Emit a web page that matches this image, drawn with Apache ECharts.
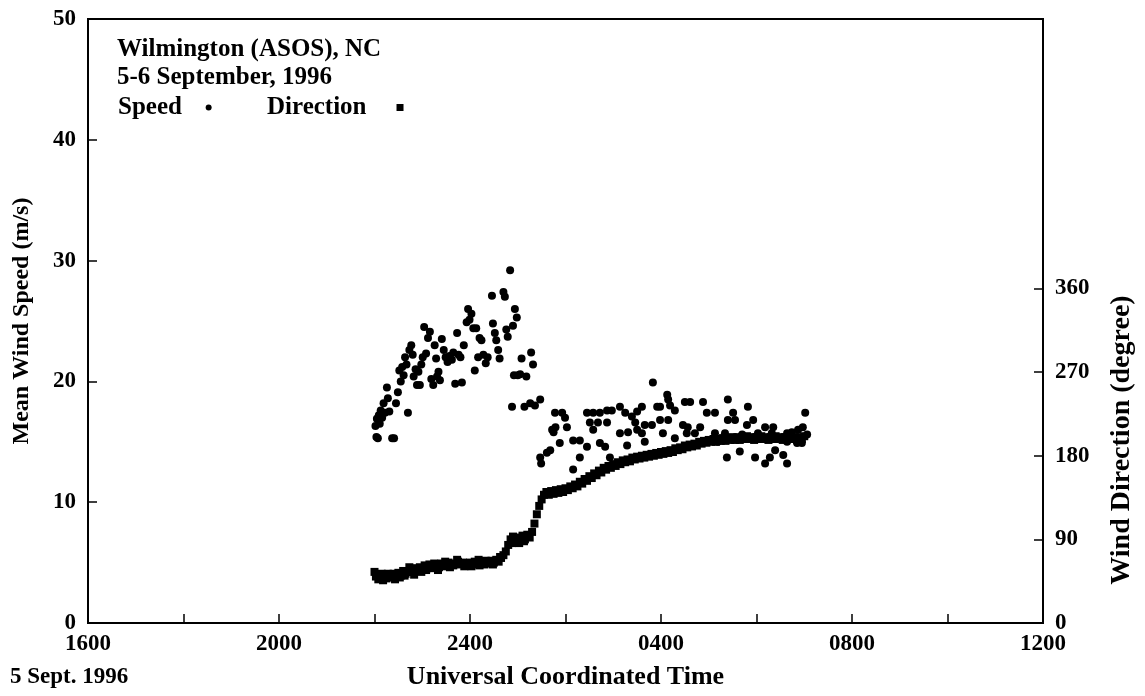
<!DOCTYPE html>
<html><head><meta charset="utf-8">
<script src="https://cdn.jsdelivr.net/npm/echarts@6/dist/echarts.min.js"></script>
<style>html,body{margin:0;padding:0;background:#fff}#c{width:1145px;height:696px}</style>
</head><body><div id="c"></div>
<script>
// Time in hours after 0000 UTC 5 Sept 1996 (24 = 2400, 28 = 0400 on 6 Sept)
const xTickValues = [16,18,20,22,24,26,28,30,32,34,36];
const xLabelValues = [16,20,24,28,32,36];
const xLabelTexts = ['1600','2000','2400','0400','0800','1200'];
const speedTicks = [0,10,20,30,40,50];
const dirTicks = [0,90,180,270,360];

// Mean wind speed (m/s) — [time, value]
const speedPoints = [
[22.02,16.3],[22.04,15.4],[22.05,16.9],[22.07,15.3],[22.09,17.2],[22.11,16.5],[22.13,17.6],[22.16,17.0],[22.19,18.2],[22.22,17.4],
[22.26,19.5],[22.28,18.6],[22.31,17.5],[22.37,15.3],[22.41,15.3],[22.45,18.2],[22.49,19.1],[22.52,20.9],[22.55,20.0],[22.58,21.2],
[22.61,20.5],[22.64,22.0],[22.67,21.4],[22.70,17.4],[22.73,22.6],[22.77,23.0],[22.80,22.2],[22.82,20.4],[22.86,21.0],[22.89,19.7],
[22.92,20.8],[22.95,19.7],[22.98,21.4],[23.01,22.0],[23.04,24.5],[23.08,22.3],[23.12,23.6],[23.16,24.1],[23.19,20.2],[23.23,19.7],
[23.26,23.0],[23.29,21.9],[23.31,20.4],[23.34,20.8],[23.37,20.1],[23.41,23.5],[23.45,22.6],[23.49,22.0],[23.53,21.6],[23.57,22.1],
[23.62,21.8],[23.65,22.4],[23.69,19.8],[23.73,24.0],[23.76,22.2],[23.80,22.0],[23.83,19.9],[23.87,23.0],[23.93,24.9],[23.96,26.0],
[23.99,25.1],[24.03,25.6],[24.07,24.4],[24.10,20.9],[24.13,24.4],[24.17,22.0],[24.20,23.6],[24.24,23.4],[24.28,22.2],[24.33,21.5],
[24.37,22.0],[24.46,27.1],[24.48,24.8],[24.52,24.0],[24.55,23.4],[24.59,22.6],[24.62,21.9],[24.70,27.4],[24.73,27.0],[24.76,24.3],
[24.79,23.7],[24.84,29.2],[24.90,24.6],[24.94,26.0],[24.98,25.3],[24.88,17.9],[24.92,20.5],[25.00,20.5],[25.05,20.6],[25.08,21.9],
[25.14,17.9],[25.18,20.4],[25.28,22.4],[25.32,21.4],[25.26,18.2],[25.36,18.0],
[25.47,18.5],[25.47,13.7],[25.49,13.2],[25.61,14.1],[25.68,14.3],[25.72,16.0],[25.75,15.8],[25.78,17.4],[25.79,16.2],[25.88,14.9],
[25.93,17.4],[25.99,17.0],[26.03,16.2],[26.16,15.1],[26.30,15.1],[26.30,13.7],[26.16,12.7],[26.45,17.4],[26.45,14.6],[26.51,16.6],
[26.58,17.4],[26.58,16.0],[26.68,16.6],[26.72,17.4],[26.72,14.9],[26.83,14.6],[26.87,17.6],[26.87,16.6],[26.93,13.7],[26.97,17.6],
[27.14,17.9],[27.14,15.7],[27.25,17.4],[27.29,14.7],[27.31,15.8],[27.39,17.1],[27.50,17.5],[27.50,16.0],[27.46,16.6],[27.60,17.9],
[27.60,15.7],[27.66,16.4],[27.66,15.0],[27.81,16.4],[27.83,19.9],[27.92,17.9],[27.98,17.9],[27.98,16.8],[28.04,15.7],[28.13,18.9],
[28.15,18.5],[28.15,16.8],[28.19,18.0],[28.29,17.6],[28.29,15.3],[28.46,16.4],[28.50,18.3],[28.54,15.7],[28.56,16.2],[28.61,18.3],
[28.71,15.7],[28.82,16.2],[28.88,18.3],[28.96,17.4],[29.13,17.4],[29.13,15.7],[29.19,15.0],[29.34,15.7],[29.38,13.7],[29.40,18.5],
[29.40,16.8],[29.51,17.4],[29.55,16.8],[29.65,14.2],[29.70,15.6],[29.80,16.4],[29.82,17.9],[29.93,16.8],[29.97,13.7],[30.03,15.7],
[30.18,16.2],[30.18,13.2],[30.28,13.7],[30.32,15.7],[30.35,16.2],[30.39,14.3],[30.56,13.9],[30.64,15.7],[30.64,15.0],[30.64,13.2],
[30.74,15.8],[30.85,14.9],[30.87,16.0],[30.95,14.9],[30.97,16.2],[31.02,17.4],[31.06,15.6]
];

// Wind direction (degree) — [time, value]
const directionPoints = [
[22.00,55],[22.03,50],[22.05,52],[22.08,47],[22.10,49],[22.15,53],[22.18,46],[22.20,50],[22.25,48],[22.28,53],[22.30,52],[22.35,49],[22.40,53],[22.43,47],[22.45,50],
[22.50,54],[22.53,49],[22.55,51],[22.60,56],[22.63,51],[22.65,53],[22.70,55],[22.73,60],[22.75,58],[22.80,55],[22.83,52],[22.85,59],[22.90,56],[22.95,60],[22.98,55],
[23.00,58],[23.05,62],[23.08,57],[23.10,59],[23.15,63],[23.18,59],[23.20,60],[23.25,64],[23.30,61],[23.33,57],[23.35,60],[23.40,64],[23.45,62],[23.48,66],
[23.50,61],[23.55,65],[23.58,60],[23.60,63],[23.65,62],[23.70,64],[23.73,68],[23.75,66],[23.80,63],[23.85,65],[23.88,61],[23.90,64],[23.95,62],
[24.00,65],[24.03,61],[24.05,63],[24.10,66],[24.15,64],[24.18,68],[24.20,62],[24.25,65],[24.30,63],[24.33,67],[24.35,66],[24.40,64],[24.45,67],[24.48,63],
[24.50,65],[24.55,68],[24.60,66],[24.63,71],[24.65,70],[24.70,73],[24.75,77],[24.80,84],[24.85,90],[24.88,86],[24.90,93],[24.95,88],
[25.00,92],[25.03,86],[25.05,89],[25.10,94],[25.13,88],[25.15,90],[25.20,95],[25.25,92],[25.30,98],[25.35,107],[25.40,117],[25.45,126],
[25.50,133],[25.55,138],[25.60,141],[25.65,138],[25.70,142],[25.75,139],[25.80,143],[25.85,140],[25.90,144],[25.95,141],
[26.00,145],[26.05,143],[26.10,147],[26.15,145],[26.20,149],[26.25,147],[26.30,152],[26.35,150],[26.40,155],[26.45,153],
[26.50,158],[26.55,156],[26.60,161],[26.65,159],[26.70,164],[26.75,162],[26.80,167],[26.85,165],[26.90,169],[26.95,167],
[27.00,171],[27.05,169],[27.10,173],[27.15,171],[27.20,175],[27.25,173],[27.30,176],[27.35,174],[27.40,178],[27.45,176],
[27.50,179],[27.55,177],[27.60,180],[27.65,178],[27.70,181],[27.75,179],[27.80,182],[27.85,180],[27.90,183],[27.95,181],
[28.00,184],[28.05,182],[28.10,185],[28.15,183],[28.20,186],[28.25,184],[28.30,188],[28.35,186],[28.40,189],[28.45,187],
[28.50,191],[28.55,189],[28.60,192],[28.65,190],[28.70,193],[28.75,191],[28.80,195],[28.85,193],[28.90,196],[28.95,194],
[29.00,197],[29.05,195],[29.10,198],[29.15,195],[29.20,198],[29.25,196],[29.30,199],[29.35,196],[29.40,199],[29.45,197],
[29.50,200],[29.55,197],[29.60,200],[29.65,197],[29.70,200],[29.75,198],[29.80,201],[29.85,198],[29.90,200],[29.95,197],
[30.00,200],[30.05,198],[30.10,201],[30.15,198],[30.20,200],[30.25,197],[30.30,200],[30.35,198],[30.40,201],[30.45,198],
[30.50,200],[30.55,197],[30.60,200],[30.65,198],[30.70,201],[30.75,198],[30.80,200],[30.85,197],[30.90,200],[30.95,198],[31.00,201]
];

const F = "'Liberation Serif','Times New Roman',serif";
const txt = (size) => ({fontFamily:F, fontSize:size, fontWeight:'bold', color:'#000'});

const chart = echarts.init(document.getElementById('c'), null, {renderer:'canvas'});
chart.setOption({
  animation:false,
  backgroundColor:'#fff',
  title:{
    text:'Wilmington (ASOS), NC\n5-6 September, 1996',
    left:112, top:31,
    textStyle:Object.assign(txt(25), {lineHeight:28})
  },
  legend:[
    {data:['Speed'], left:113, top:90, align:'right', icon:'circle', itemWidth:6, itemHeight:6,
     formatter:n=>n+'   ', textStyle:txt(25), selectedMode:false},
    {data:['Direction'], left:262, top:90, align:'right', icon:'rect', itemWidth:7, itemHeight:7,
     formatter:n=>n+'    ', textStyle:txt(25), selectedMode:false}
  ],
  grid:{left:88, right:102, top:19, bottom:73, show:true, borderColor:'#000', borderWidth:2},
  xAxis:{
    type:'value', min:16, max:36, interval:2,
    name:'Universal Coordinated Time', nameLocation:'middle', nameGap:41,
    nameTextStyle:txt(26),
    axisLine:{lineStyle:{color:'#000', width:2}},
    axisTick:{inside:true, length:9, customValues:xTickValues, lineStyle:{color:'#000', width:1.5}},
    axisLabel:Object.assign(txt(23), {customValues:xLabelValues, margin:10,
      formatter:v=>xLabelTexts[xLabelValues.indexOf(v)]}),
    splitLine:{show:false}
  },
  yAxis:[
    {type:'value', min:0, max:50, interval:10, position:'left',
     name:'Mean Wind Speed (m/s)', nameLocation:'middle', nameGap:54,
     nameTextStyle:txt(24),
     axisLine:{show:true, lineStyle:{color:'#000', width:2}},
     axisTick:{inside:true, length:9, customValues:speedTicks, lineStyle:{color:'#000', width:1.5}},
     axisLabel:Object.assign(txt(23), {customValues:speedTicks, margin:12}),
     splitLine:{show:false}},
    {type:'value', min:0, max:650, position:'right',
     axisLine:{show:true, lineStyle:{color:'#000', width:2}},
     axisTick:{show:true, inside:true, length:9, customValues:dirTicks, lineStyle:{color:'#000', width:1.5}},
     axisLabel:Object.assign(txt(23), {customValues:dirTicks, margin:12}),
     splitLine:{show:false}}
  ],
  graphic:[
    {type:'text', x:1122, y:440, rotation:Math.PI/2,
     style:{text:'Wind Direction (degree)', font:"bold 28px 'Liberation Serif', serif", fill:'#000', align:'center', verticalAlign:'middle'}},
    {type:'text', x:10, y:677,
     style:{text:'5 Sept. 1996', font:"bold 23px 'Liberation Serif', serif", fill:'#000', align:'left', verticalAlign:'middle'}}
  ],
  series:[
    {name:'Speed', type:'scatter', yAxisIndex:0, data:speedPoints, symbol:'circle', symbolSize:8,
     itemStyle:{color:'#000', opacity:1}},
    {name:'Direction', type:'scatter', yAxisIndex:1, data:directionPoints, symbol:'rect', symbolSize:8,
     itemStyle:{color:'#000', opacity:1}}
  ]
});
</script></body></html>
